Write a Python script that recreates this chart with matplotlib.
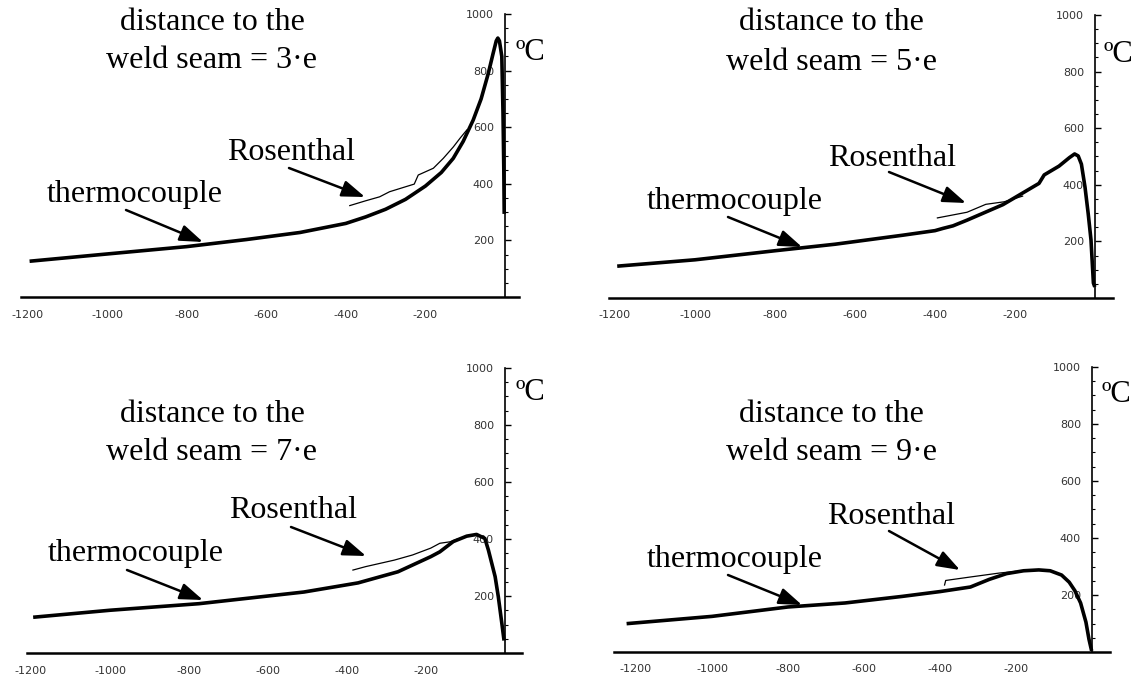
import matplotlib
matplotlib.use('Agg')
import matplotlib.pyplot as plt
from matplotlib.ticker import MultipleLocator

W, H = 1137, 677
plt.rcParams['font.family'] = ['Liberation Serif', 'DejaVu Serif']
plt.rcParams['axes.unicode_minus'] = False

# distance to the weld seam = 3·e
x3_tc = [-1190, -1000, -800, -650, -515, -400, -350, -300, -250, -200, -160, -130,
         -105, -80, -60, -42, -30, -22, -18, -14, -8, -5, -3, -2]
t3_tc = [127, 152, 178, 203, 228, 260, 283, 310, 345, 392, 440, 490,
         550, 625, 700, 790, 860, 905, 915, 905, 850, 650, 450, 300]
x3_ro = [-390, -350, -315, -290, -228, -218, -180, -155, -130, -113, -96]
t3_ro = [323, 340, 354, 372, 399, 431, 455, 490, 530, 561, 590]

# distance to the weld seam = 5·e
x5_tc = [-1190, -1000, -800, -650, -480, -400, -380, -355, -320, -230, -170, -140,
         -127, -90, -64, -51, -42, -34, -25, -17, -10, -4, -2]
t5_tc = [113, 135, 167, 190, 222, 238, 246, 255, 275, 330, 380, 405,
         435, 466, 496, 509, 502, 473, 392, 298, 205, 53, 45]
x5_ro = [-394, -320, -273, -227, -181]
t5_ro = [283, 303, 331, 340, 360]

# distance to the weld seam = 7·e
x7_tc = [-1190, -1000, -775, -600, -509, -372, -271, -188, -165, -131, -97, -72,
         -51, -42, -25, -17, -8, -3]
t7_tc = [126, 150, 173, 200, 214, 246, 285, 338, 355, 391, 410, 416,
         402, 361, 268, 198, 104, 50]
x7_ro = [-385, -353, -280, -234, -188, -165, -140, -120]
t7_ro = [291, 303, 326, 344, 368, 385, 390, 400]

# distance to the weld seam = 9·e
x9_tc = [-1220, -1000, -800, -650, -500, -400, -320, -270, -225, -180, -140, -110,
         -80, -60, -45, -30, -16, -8, -2]
t9_tc = [100, 125, 158, 172, 195, 212, 228, 255, 275, 285, 288, 285,
         270, 245, 215, 172, 105, 45, 10]
x9_ro = [-388, -385, -321, -244, -200]
t9_ro = [235, 251, 263, 277, 283]

x_ticks = [-1200, -1000, -800, -600, -400, -200]
y_ticks = [200, 400, 600, 800, 1000]

# pixel layout of each panel
panels = [
    dict(tc=(x3_tc, t3_tc), ro=(x3_ro, t3_ro), n='3',
         x0=505, xs=0.398, y0=297, ys=0.283, xlim=(-1215, 35),
         title=(212, 22, 60), ro_txt=(291, 152), tc_txt=(135, 195),
         ro_arr=((289, 168), (365, 197)), tc_arr=((126, 210), (203, 242)),
         degc=(516, 52)),
    dict(tc=(x5_tc, t5_tc), ro=(x5_ro, t5_ro), n='5',
         x0=1095, xs=0.40, y0=298, ys=0.283, xlim=(-1215, 45),
         title=(831, 22, 62), ro_txt=(892, 159), tc_txt=(735, 202),
         ro_arr=((889, 172), (966, 203)), tc_arr=((728, 217), (802, 247)),
         degc=(1103, 55)),
    dict(tc=(x7_tc, t7_tc), ro=(x7_ro, t7_ro), n='7',
         x0=505, xs=0.395, y0=653, ys=0.285, xlim=(-1210, 43),
         title=(212, 415, 453), ro_txt=(293, 510), tc_txt=(136, 553),
         ro_arr=((291, 527), (366, 556)), tc_arr=((127, 570), (203, 600)),
         degc=(515, 393)),
    dict(tc=(x9_tc, t9_tc), ro=(x9_ro, t9_ro), n='9',
         x0=1092, xs=0.38, y0=652, ys=0.285, xlim=(-1258, 47),
         title=(831, 415, 453), ro_txt=(891, 517), tc_txt=(735, 560),
         ro_arr=((889, 531), (960, 570)), tc_arr=((728, 575), (802, 605)),
         degc=(1101, 395)),
]


def ff(p):
    return (p[0] / W, 1 - p[1] / H)


fig = plt.figure(figsize=(W / 100, H / 100), dpi=100)

for p in panels:
    left = p['x0'] + p['xs'] * p['xlim'][0]
    width = p['xs'] * (p['xlim'][1] - p['xlim'][0])
    ax = fig.add_axes([left / W, 1 - p['y0'] / H, width / W, p['ys'] * 1000 / H])
    ax.set_xlim(p['xlim'])
    ax.set_ylim(0, 1000)
    ax.patch.set_alpha(0)
    for s in ['top', 'right']:
        ax.spines[s].set_visible(False)
    ax.spines['left'].set_position(('data', 0))
    ax.spines['left'].set_linewidth(1.2)
    ax.spines['bottom'].set_linewidth(1.8)

    ax.plot(*p['tc'], color='black', lw=2.6, solid_joinstyle='round', clip_on=False)
    ax.plot(*p['ro'], color='black', lw=0.9, clip_on=False)

    ax.set_xticks(x_ticks)
    ax.set_xticklabels([str(v) for v in x_ticks])
    ax.set_yticks(y_ticks)
    ax.set_yticklabels([str(v) for v in y_ticks])
    ax.yaxis.set_minor_locator(MultipleLocator(50))
    ax.tick_params(axis='x', length=0, pad=9, labelsize=8, labelcolor='#333333')
    ax.tick_params(axis='y', which='major', direction='in', length=4, width=1,
                   pad=8, labelsize=8, labelcolor='#333333')
    ax.tick_params(axis='y', which='minor', direction='in', length=2.5, width=0.8)
    for lab in ax.get_xticklabels() + ax.get_yticklabels():
        lab.set_family('DejaVu Sans')

    cx, y1, y2 = p['title']
    fig.text(*ff((cx, y1)), 'distance to the', ha='center', va='center', fontsize=23)
    fig.text(*ff((cx, y2)), 'weld seam = ' + p['n'] + '·e', ha='center', va='center',
             fontsize=23)
    fig.text(*ff(p['ro_txt']), 'Rosenthal', ha='center', va='center', fontsize=23)
    fig.text(*ff(p['tc_txt']), 'thermocouple', ha='center', va='center', fontsize=23)
    fig.text(*ff(p['degc']), 'ºC', ha='left', va='center', fontsize=22)

    for tail, tip in [p['ro_arr'], p['tc_arr']]:
        ax.annotate('', xy=ff(tip), xytext=ff(tail), xycoords='figure fraction',
                    textcoords='figure fraction',
                    arrowprops=dict(arrowstyle='-|>,head_length=0.7,head_width=0.25',
                                    mutation_scale=20, color='black', lw=1.8,
                                    shrinkA=0, shrinkB=0))

fig.savefig('out.png', dpi=100)
